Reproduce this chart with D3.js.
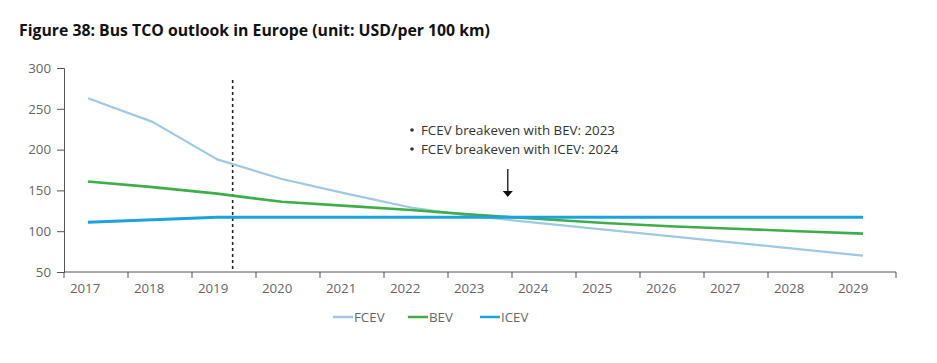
<!DOCTYPE html>
<html>
<head>
<meta charset="utf-8">
<script src="https://cdn.jsdelivr.net/npm/d3@7"></script>
<style>
  body { margin: 0; background: #fff; }
  svg { font-family: "Open Sans", sans-serif; }
</style>
</head>
<body>
<div id="chart"></div>
<script>
var years = [2017, 2018, 2019, 2020, 2021, 2022, 2023, 2024, 2025, 2026, 2027, 2028, 2029]
var fcev = [263, 234, 188, 164, 146, 129, 118, 110, 102, 94, 86, 78, 70]
var bev = [161, 154, 146, 136, 131, 126, 120, 115, 110, 106, 103, 100, 97]
var icev = [111, 114, 117, 117, 117, 117, 117, 117, 117, 117, 117, 117, 117]
var yTicks = [50, 100, 150, 200, 250, 300]
var seriesNames = ["FCEV", "BEV", "ICEV"]
var notes = ["FCEV breakeven with BEV: 2023", "FCEV breakeven with ICEV: 2024"]
var dividerYear = 2019.24
var arrowYear = 2023.5

function create_vis() {
    return d3.select("#chart").append("svg").attr("width", 937).attr("height", 363)
}

function draw() {
    var svg = create_vis()
    var colors = {"FCEV": "#9dc9e3", "BEV": "#3dae4a", "ICEV": "#1ba3dc"}
    var widths = {"FCEV": 2.2, "BEV": 2.6, "ICEV": 3}

    // axis bands vs. data positions are a little offset in the original
    var xBand = d3.scaleBand().domain(years).range([64, 896])
    var x = d3.scaleLinear().domain([2017, 2029]).range([88, 863])
    var y = d3.scaleLinear().domain([50, 300]).range([272, 68])

    svg.append("text")
        .attr("x", 19).attr("y", 36)
        .attr("font-size", 15.8).attr("font-weight", "bold").attr("fill", "#111")
        .text("Figure 38: Bus TCO outlook in Europe (unit: USD/per 100 km)")

    // y axis
    var yAxis = svg.append("g").attr("transform", "translate(64,0)")
        .call(d3.axisLeft(y).tickValues(yTicks).tickSize(7).tickPadding(6))
    yAxis.select(".domain").attr("stroke", "#555")
    yAxis.selectAll(".tick line").attr("stroke", "#555")
    yAxis.selectAll(".tick text").attr("fill", "#666").attr("font-size", 13.3)
        .attr("font-family", "Open Sans, sans-serif")

    // x axis: ticks on band edges, labels near the data point
    var xg = svg.append("g")
    xg.append("line").attr("x1", 64).attr("x2", 896).attr("y1", 272).attr("y2", 272)
        .attr("stroke", "#555")
    xg.selectAll("line.tk").data(years.concat(["end"])).enter().append("line")
        .attr("class", "tk")
        .attr("x1", function(d) { return d == "end" ? 896 : xBand(d) })
        .attr("x2", function(d) { return d == "end" ? 896 : xBand(d) })
        .attr("y1", 272).attr("y2", 278).attr("stroke", "#555")
    xg.selectAll("text").data(years).enter().append("text")
        .attr("x", function(d) { return xBand(d) + xBand.bandwidth() * 0.33 })
        .attr("y", 293)
        .attr("text-anchor", "middle").attr("font-size", 13.3).attr("fill", "#666")
        .text(function(d) { return d })

    // dotted divider
    svg.append("line")
        .attr("x1", x(dividerYear)).attr("x2", x(dividerYear))
        .attr("y1", 80).attr("y2", 272)
        .attr("stroke", "#222").attr("stroke-width", 1.6).attr("stroke-dasharray", "3,3")

    var data = {"FCEV": fcev, "BEV": bev, "ICEV": icev}
    var line = d3.line()
        .x(function(d, i) { return x(years[i]) })
        .y(function(d) { return y(d) })

    seriesNames.forEach(function(name) {
        svg.append("path").datum(data[name])
            .attr("d", line)
            .attr("fill", "none")
            .attr("stroke", colors[name])
            .attr("stroke-width", widths[name])
            .attr("stroke-linejoin", "round")
    })

    // annotation
    var ann = svg.append("g")
    notes.forEach(function(t, i) {
        ann.append("circle").attr("cx", 412).attr("cy", 130 + i * 19).attr("r", 1.8).attr("fill", "#333")
        ann.append("text").attr("x", 421).attr("y", 135 + i * 19)
            .attr("font-size", 13.3).attr("fill", "#333").text(t)
    })
    var ax = x(arrowYear)
    ann.append("line").attr("x1", ax).attr("x2", ax).attr("y1", 169).attr("y2", 192)
        .attr("stroke", "#111").attr("stroke-width", 1.3)
    ann.append("path")
        .attr("d", "M" + (ax - 5) + ",191 L" + (ax + 5) + ",191 L" + ax + ",197 Z")
        .attr("fill", "#111")

    // legend
    var legX = [333, 408, 480]
    var leg = svg.selectAll("g.leg").data(seriesNames).enter().append("g")
        .attr("class", "leg")
        .attr("transform", function(d, i) { return "translate(" + legX[i] + ",317)" })
    leg.append("line").attr("x1", 0).attr("x2", 20).attr("y1", 0).attr("y2", 0)
        .attr("stroke", function(d) { return colors[d] }).attr("stroke-width", 2.5)
    leg.append("text").attr("x", 21).attr("y", 5)
        .attr("font-size", 13.3).attr("fill", "#666").text(function(d) { return d })
}

draw()
</script>
</body>
</html>
